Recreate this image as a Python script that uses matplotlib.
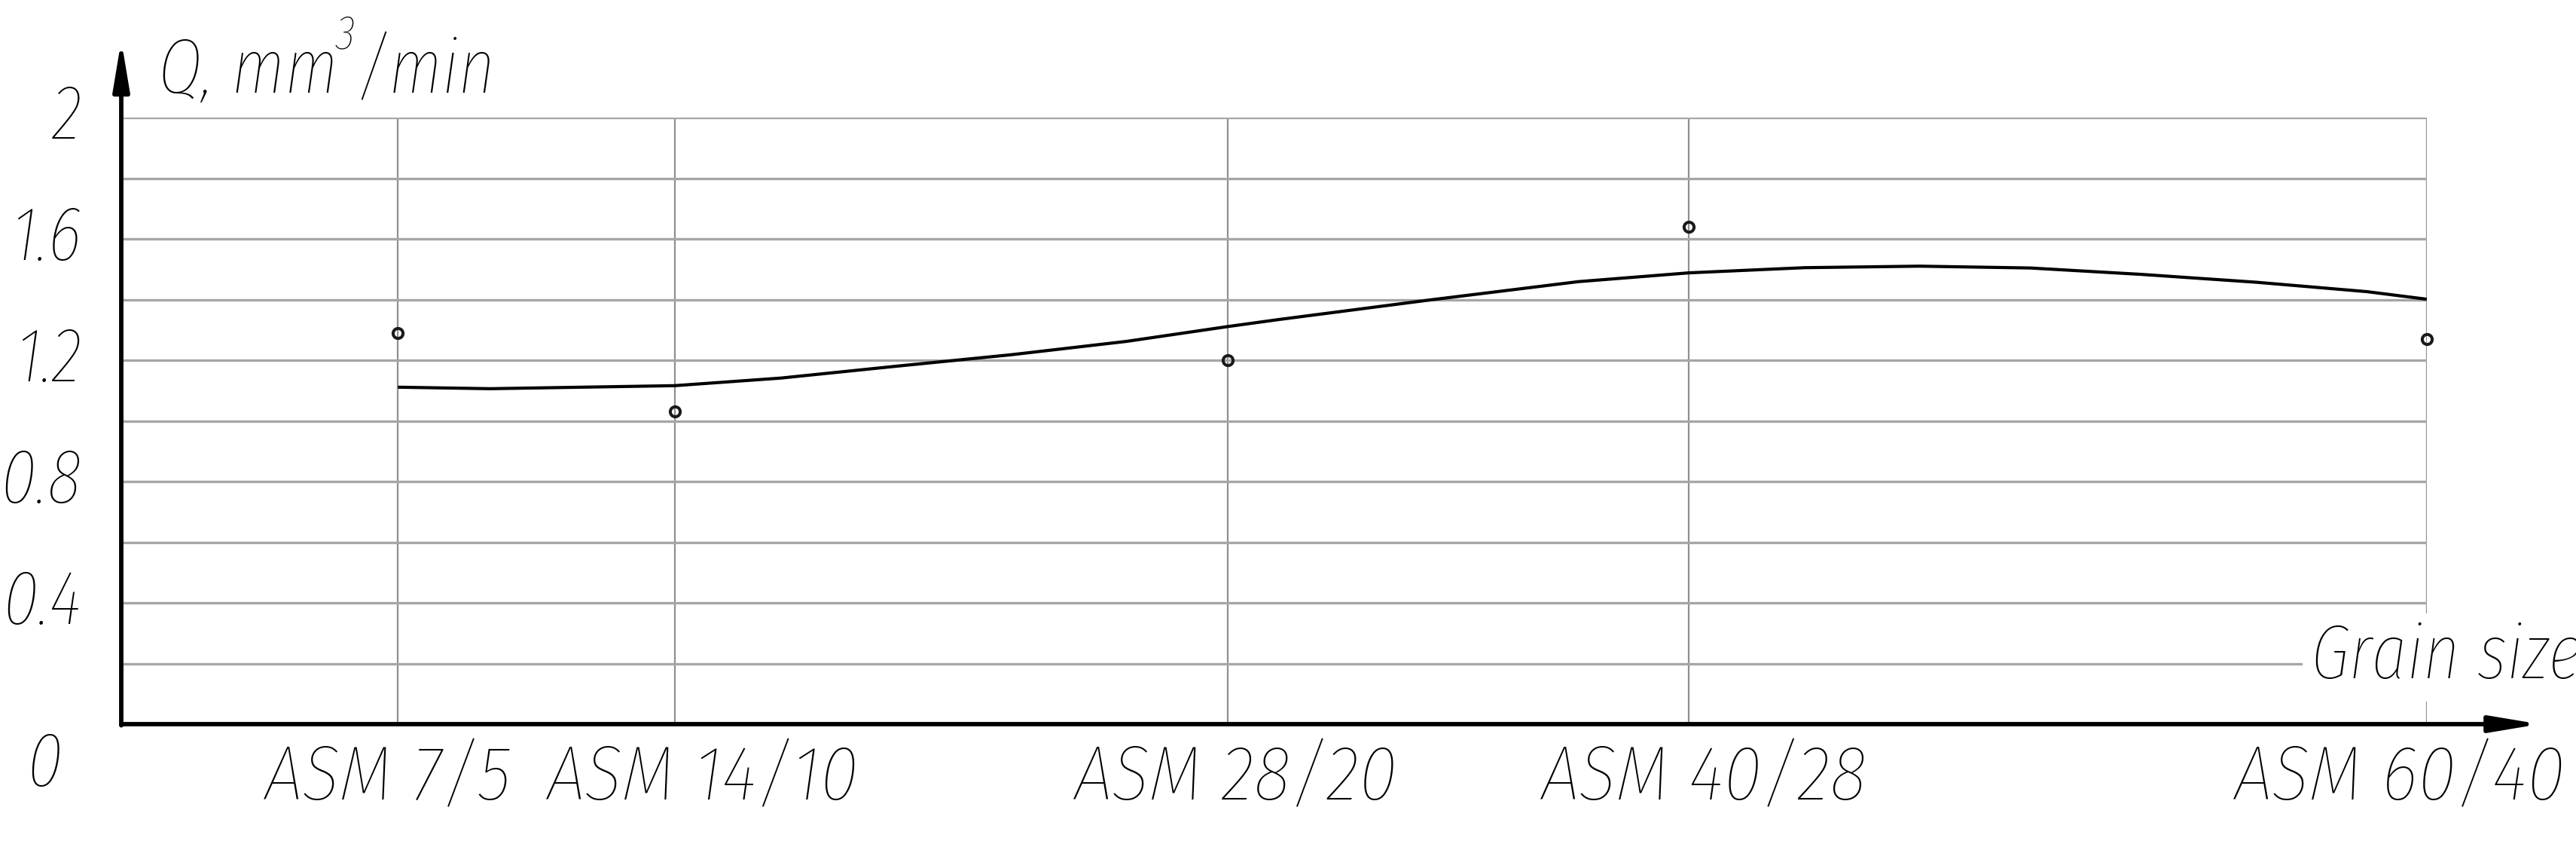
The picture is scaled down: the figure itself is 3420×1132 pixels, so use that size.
import matplotlib
matplotlib.use("Agg")
import matplotlib.pyplot as plt
import matplotlib.transforms as mtransforms

# ---------------- data ----------------
grain_labels = ["ASM 7/5", "ASM 14/10", "ASM 28/20", "ASM 40/28", "ASM 60/40"]
grain_mean = [6, 12, 24, 34, 50]          # mean grain size, µm (x position)
q_values = [1.29, 1.03, 1.20, 1.64, 1.27]  # measured Q, mm^3/min

# trend curve
trend_x = [6, 8, 12, 14.3, 16.8, 19.3, 21.8, 24, 25.1, 28.4, 31.6, 34,
           36.5, 39, 41.4, 43.8, 46.3, 48.7, 50]
trend_y = [1.111, 1.106, 1.116, 1.141, 1.180, 1.218, 1.262, 1.311, 1.334,
           1.399, 1.459, 1.488, 1.505, 1.510, 1.504, 1.483, 1.457, 1.426, 1.401]

y_major = [0, 0.4, 0.8, 1.2, 1.6, 2.0]
y_major_labels = ["0", "0.4", "0.8", "1.2", "1.6", "2"]
y_minor = [0.2, 0.6, 1.0, 1.4, 1.8]

# ---------------- style ----------------
FONT = ["Fira Sans Condensed", "Archivo Narrow", "Liberation Sans Narrow", "DejaVu Sans"]
FONT_NARROW = ["Fira Sans Extra Condensed", "Fira Sans Condensed", "Archivo Narrow", "DejaVu Sans"]
plt.rcParams["font.family"] = FONT
plt.rcParams["font.style"] = "italic"
plt.rcParams["font.weight"] = "light"
FS = 73
TXT = dict(fontsize=FS, fontstyle="italic", fontweight="light")

W, H, DPI = 3420, 1132, 100
fig = plt.figure(figsize=(W / DPI, H / DPI), dpi=DPI)
left_px, right_px, bottom_px, top_px = 161, 3222, 961, 156
ax = fig.add_axes([left_px / W, (H - bottom_px) / H,
                   (right_px - left_px) / W, (bottom_px - top_px) / H])
ax.set_xlim(0, 50)
ax.set_ylim(0, 2)
for s in ax.spines.values():
    s.set_visible(False)

# ticks / grid
ax.set_xticks(grain_mean)
ax.set_xticklabels(grain_labels, **TXT)
ax.set_yticks(y_major)
ax.set_yticklabels(y_major_labels, family=FONT_NARROW, **TXT)
ax.set_yticks(y_minor, minor=True)
ax.tick_params(axis="both", which="both", length=0)
ax.tick_params(axis="x", pad=18)
ax.tick_params(axis="y", pad=38)
ax.grid(axis="y", which="both", color="#a6a6a6", lw=2.4)
ax.grid(axis="x", which="major", color="#8f8f8f", lw=1.6)
ax.set_axisbelow(True)

# small horizontal nudges of the category labels (pixels), as in the reference
x_label_nudge = [-13, 37, 11, 20, -36]
for lab, dx in zip(ax.get_xticklabels(), x_label_nudge):
    lab.set_transform(lab.get_transform() +
                      mtransforms.ScaledTranslation(dx / DPI, 0, fig.dpi_scale_trans))

# shift y tick labels slightly up, origin label down-left
for i, lab in enumerate(ax.get_yticklabels()):
    if i == 0:
        off = mtransforms.ScaledTranslation(-26 / DPI, -44 / DPI, fig.dpi_scale_trans)
    else:
        off = mtransforms.ScaledTranslation(0, 10 / DPI, fig.dpi_scale_trans)
    lab.set_transform(lab.get_transform() + off)

# data
ax.plot(trend_x, trend_y, color="black", lw=3.0, zorder=3, solid_capstyle="butt",
        solid_joinstyle="round")
ax.plot(grain_mean, q_values, linestyle="none", marker="o", markersize=9.5,
        markerfacecolor="none", markeredgecolor="#1a1a1a", markeredgewidth=2.9,
        zorder=4, clip_on=False)

# axes arrows
arrow_style = "-|>,head_length=3.9,head_width=0.65"
ax.annotate("", xy=(52.45, 0), xytext=(0, 0), xycoords="data",
            arrowprops=dict(arrowstyle=arrow_style, mutation_scale=10, lw=4.2,
                            color="black", shrinkA=0, shrinkB=0),
            annotation_clip=False, zorder=5)
ax.annotate("", xy=(0, 2.255), xytext=(0, -0.004), xycoords="data",
            arrowprops=dict(arrowstyle=arrow_style, mutation_scale=10, lw=4.2,
                            color="black", shrinkA=0, shrinkB=0),
            annotation_clip=False, zorder=5)

# axis titles
t1 = ax.text(0.8, 2.082, "Q, mm", va="baseline", ha="left", clip_on=False,
             family=FONT_NARROW, **TXT)
t3 = ax.annotate("3", xy=(1, 1), xycoords=t1, xytext=(-2, 22), textcoords="offset points",
                 fontsize=46, fontstyle="italic", fontweight="light", family=FONT_NARROW,
                 va="top", ha="left", annotation_clip=False)
ax.annotate("/min", xy=(1, 0), xycoords=t1, xytext=(17, 0), textcoords="offset points",
            va="bottom", ha="left", annotation_clip=False, family=FONT_NARROW, **TXT)

ax.text(47.48, 0.152, "Grain size", va="baseline", ha="left", zorder=6,
        clip_on=False, family=FONT_NARROW,
        bbox=dict(facecolor="white", edgecolor="none", pad=8), **TXT)

fig.savefig("out.png", dpi=DPI, facecolor="white")
